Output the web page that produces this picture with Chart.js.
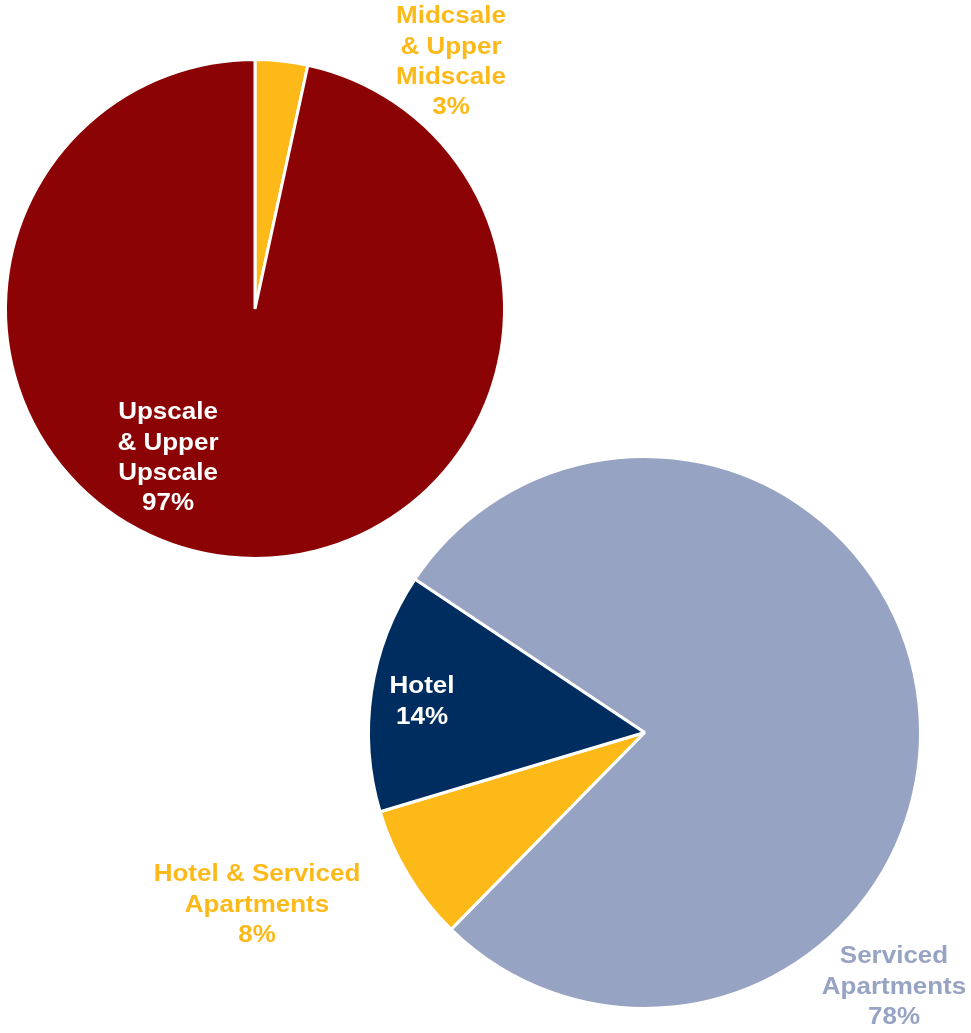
<!DOCTYPE html>
<html>
<head>
<meta charset="utf-8">
<script src="https://cdn.jsdelivr.net/npm/chart.js@4/dist/chart.umd.min.js"></script>
<style>
  html, body { margin: 0; padding: 0; background: #ffffff; }
  #wrap { position: relative; width: 971px; height: 1033px; overflow: hidden; }
  .layer { position: absolute; left: 0; top: 0; width: 971px; height: 1033px; }
</style>
</head>
<body>
<div id="wrap">
  <div class="layer"><canvas id="c1" width="971" height="1033"></canvas></div>
  <div class="layer"><canvas id="c2" width="971" height="1033"></canvas></div>
</div>
<script>
// ---- Data ----
const categories1 = ['Midcsale & Upper Midscale', 'Upscale & Upper Upscale'];
const values1 = [3.4, 96.6];
const labelLines1 = [['Midcsale', '& Upper', 'Midscale', '3%'], ['Upscale', '& Upper', 'Upscale', '97%']];

const categories2 = ['Serviced Apartments', 'Hotel & Serviced Apartments', 'Hotel'];
const values2 = [78, 8, 14];
const labelLines2 = [['Serviced', 'Apartments', '78%'], ['Hotel & Serviced', 'Apartments', '8%'], ['Hotel', '14%']];

// ---- Styles ----
const colors1 = ['#FCB918', '#8B0304'];
const labelColors1 = ['#FCB918', '#FFFFFF'];
const labelPos1 = [[451, 15], [168, 411]];

const colors2 = ['#97A3C2', '#FCB918', '#002D5F'];
const labelColors2 = ['#97A3C2', '#FCB918', '#FFFFFF'];
const labelPos2 = [[894, 955], [257, 873], [422, 685]];

const FONT = 'bold 23px "Liberation Sans", Arial, sans-serif';
const LINE_H = 30.3;
const SX = 1.13;

function makeLabelPlugin(lines, colorsArr, positions) {
  return {
    id: 'customLabels',
    afterDraw(chart) {
      const ctx = chart.ctx;
      ctx.save();
      ctx.font = FONT;
      ctx.textAlign = 'center';
      ctx.textBaseline = 'alphabetic';
      lines.forEach((ls, i) => {
        ctx.fillStyle = colorsArr[i];
        const [x, y] = positions[i];
        ls.forEach((t, j) => {
          ctx.save();
          ctx.translate(x, y + j * LINE_H + 8.3);
          ctx.scale(SX, 1);
          ctx.fillText(t, 0, 0);
          ctx.restore();
        });
      });
      ctx.restore();
    }
  };
}

Chart.defaults.animation = false;

new Chart(document.getElementById('c1'), {
  type: 'pie',
  data: {
    labels: categories1,
    datasets: [{
      data: values1,
      backgroundColor: colors1,
      borderColor: '#FFFFFF',
      borderWidth: 3
    }]
  },
  options: {
    responsive: false,
    animation: false,
    rotation: 0,
    layout: { padding: { left: 4, top: 58, right: 465, bottom: 473 } },
    plugins: { legend: { display: false }, tooltip: { enabled: false } }
  },
  plugins: [makeLabelPlugin(labelLines1, labelColors1, labelPos1)]
});

new Chart(document.getElementById('c2'), {
  type: 'pie',
  data: {
    labels: categories2,
    datasets: [{
      data: values2,
      backgroundColor: colors2,
      borderColor: '#FFFFFF',
      borderWidth: 3
    }]
  },
  options: {
    responsive: false,
    animation: false,
    rotation: 303.7,
    layout: { padding: { left: 367, top: 455, right: 49, bottom: 23 } },
    plugins: { legend: { display: false }, tooltip: { enabled: false } }
  },
  plugins: [makeLabelPlugin(labelLines2, labelColors2, labelPos2)]
});
</script>
</body>
</html>
